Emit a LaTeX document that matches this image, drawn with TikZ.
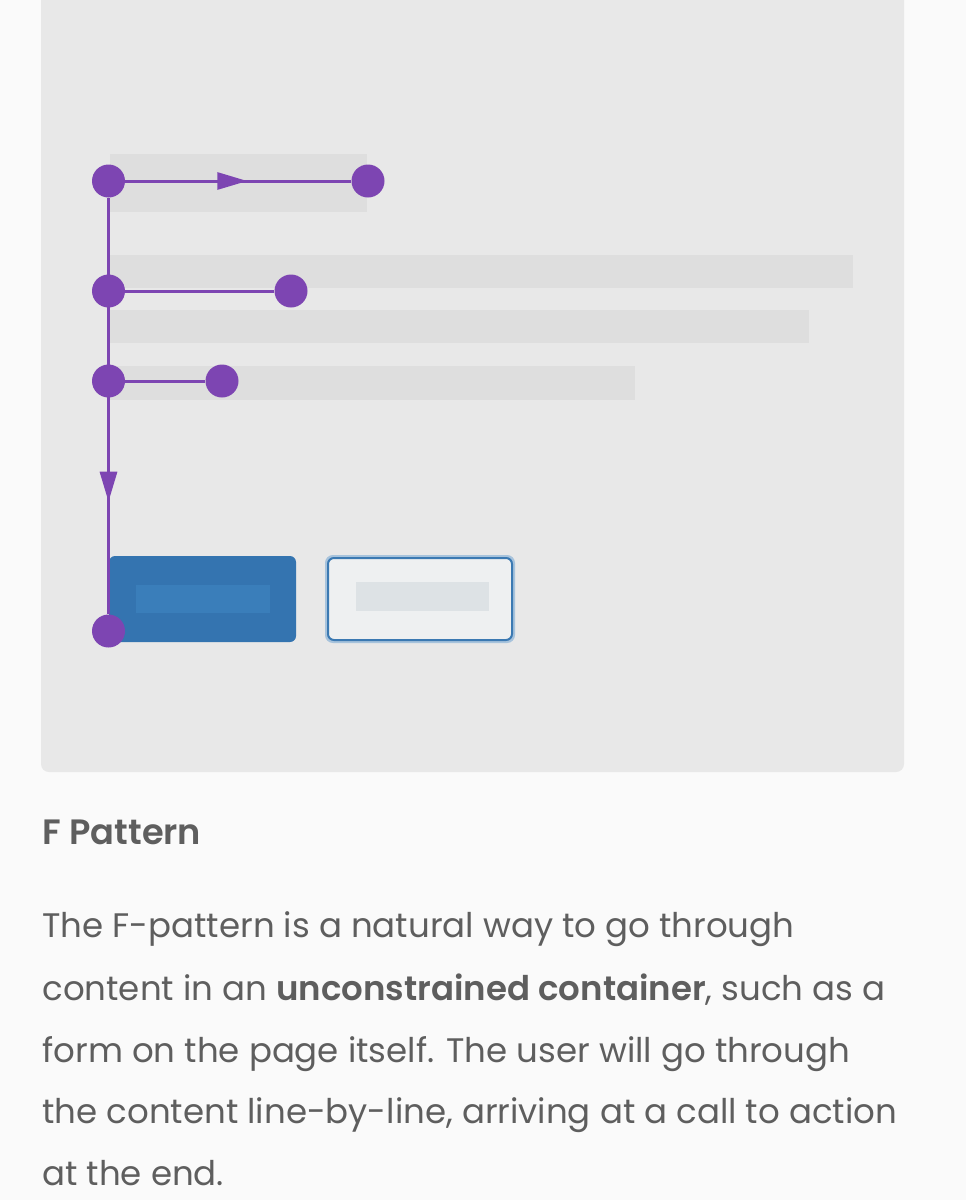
\documentclass[tikz,border=0pt]{standalone}
\usepackage{fontspec}
\setmainfont{Poppins}[BoldFont={Poppins SemiBold}]
\usetikzlibrary{arrows.meta,decorations.markings}
\definecolor{pagebg}{HTML}{FAFAFA}
\definecolor{panelgrey}{HTML}{E8E8E8}
\definecolor{bargrey}{HTML}{DEDEDE}
\definecolor{fpurple}{HTML}{7D45B2}
\definecolor{btnblue}{HTML}{3474B0}
\definecolor{btninner}{HTML}{3A7EBA}
\definecolor{ghostfill}{HTML}{EEF0F1}
\definecolor{ghostbar}{HTML}{DDE2E5}
\definecolor{ghostedge}{HTML}{3B79B2}
\definecolor{txtgrey}{HTML}{5E5E5E}

\begin{document}
\begin{tikzpicture}[x=0.5pt, y=-0.5pt,
    dot/.style={circle, fill=fpurple, inner sep=0pt, minimum size=16.5pt},
    flow/.style={draw=fpurple, line width=1.5pt},
    mid arrow/.style={decoration={markings, mark=at position #1 with
      {\arrow[fpurple]{Triangle[length=15pt,width=8.5pt]}}}, postaction=decorate},
    body/.style={anchor=base west, inner sep=0pt, text=txtgrey,
      font=\fontsize{17}{20}\selectfont}]
    \useasboundingbox (0,0) rectangle (966,1200);
    \fill[pagebg] (0,0) rectangle (966,1200);
    \clip (0,0) rectangle (966,1200);
    \fill[panelgrey, rounded corners=4pt] (41,-20) rectangle (904,772);
    \fill[bargrey] (110,154) rectangle (367,212);
    \fill[bargrey] (110,255) rectangle (853,288);
    \fill[bargrey] (110,310) rectangle (809,343);
    \fill[bargrey] (110,366) rectangle (635,400);
    \fill[btnblue, rounded corners=3pt] (109,556) rectangle (296,642);
    \fill[btninner] (136,585) rectangle (270,613);
    \draw[line width=2pt, draw=ghostedge!45, rounded corners=3pt] (327,557) rectangle (513,641);
    \draw[line width=1pt, draw=ghostedge, fill=ghostfill, rounded corners=3pt] (328,558) rectangle (512,640);
    \fill[ghostbar] (356,582) rectangle (489,611);
    \node[dot] (d1) at (108.5,181) {};
    \node[dot] (e1) at (368,181) {};
    \node[dot] (d2) at (108.5,291) {};
    \node[dot] (e2) at (291,291) {};
    \node[dot] (d3) at (108.5,381) {};
    \node[dot] (e3) at (222,381) {};
    \node[dot] (d4) at (108.5,631) {};
    \draw[flow, mid arrow=0.54] (d1) -- (e1);
    \draw[flow] (d2) -- (e2);
    \draw[flow] (d3) -- (e3);
    \draw[flow, mid arrow=0.73] (d1) -- (d4);
    \node[body, font=\fontsize{17.6}{20}\selectfont\bfseries] (title) at (42,844) {F Pattern};
    \node[body] (l1) at (42,937) {The F-pattern is a natural way to go through};
    \node[body] (l2) at (42,1000) {content in an \textbf{unconstrained container}, such as a};
    \node[body] (l3) at (42,1062) {form on the page itself. The user will go through};
    \node[body] (l4) at (42,1123) {the content line-by-line, arriving at a call to action};
    \node[body] (l5) at (42,1185) {at the end.};
\end{tikzpicture}
\end{document}
